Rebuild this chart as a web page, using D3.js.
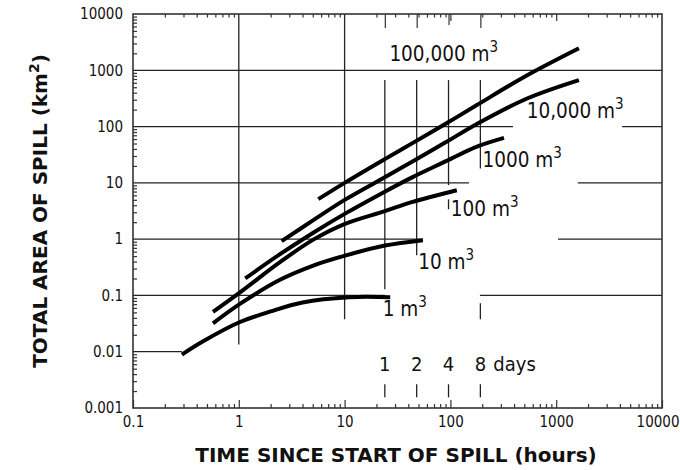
<!DOCTYPE html>
<html>
<head>
<meta charset="utf-8">
<script src="https://cdn.jsdelivr.net/npm/d3@7"></script>
<style>
  body { margin: 0; background: #fff; }
  text { font-family: 'DejaVu Sans Condensed', 'DejaVu Sans', sans-serif; fill: #111; }
  .title { font-family: 'DejaVu Sans', sans-serif; font-weight: bold; font-size: 20px; }
</style>
</head>
<body>
<div id="chart"></div>
<script>
// spill curves: [hours, km2]
const spill1 = [[0.29, 0.0089], [0.46, 0.0153], [1, 0.033], [2, 0.052], [4, 0.075], [11, 0.093], [27, 0.093]];
const spill10 = [[0.57, 0.032], [1.05, 0.073], [2.45, 0.19], [5.06, 0.34], [10.1, 0.51], [24, 0.77], [55, 0.96]];
const spill100 = [[0.57, 0.051], [1.05, 0.117], [2.45, 0.39], [5.06, 0.98], [10.1, 1.87], [24, 3.14], [43, 4.54], [115, 7.4]];
const spill1000 = [[1.15, 0.2], [2.45, 0.54], [5.06, 1.3], [10.1, 2.84], [24, 6.98], [43, 12.4], [91, 24.3], [178, 44], [321, 63]];
const spill10000 = [[2.54, 0.92], [5.06, 2.17], [10.1, 5.03], [24, 12.6], [43, 23.4], [91, 53], [178, 111], [530, 315], [1640, 670]];
const spill100000 = [[5.64, 5.13], [10.1, 10.1], [24, 26.4], [43, 49.8], [91, 113], [178, 241], [507, 774], [1640, 2455]];

const curveLabels = ["1", "10", "100", "1000", "10,000", "100,000"];
// where each label starts: [hours, km2]
const labelAt = [[22.9, 0.043], [49.7, 0.29], [101, 2.58], [201, 19.3], [526, 140], [26.5, 1480]];

const xTicks = [0.1, 1, 10, 100, 1000, 10000];
const yTicks = [0.001, 0.01, 0.1, 1, 10, 100, 1000, 10000];
const dayHours = [24, 48, 96, 192];
const dayLabels = ["1", "2", "4", "8"];

// horizontal grid pieces: [km2, from hours, to hours]
const hGrid = [[1000, 0.1, 10000], [100, 0.1, 390], [100, 4200, 10000], [10, 0.1, 150], [10, 1600, 10000],
               [1, 0.1, 55], [1, 1040, 10000], [0.1, 0.1, 24], [0.1, 190, 10000], [0.01, 0.1, 0.29]];
// vertical grid pieces: [hours, from km2, to km2]
const vGrid = [[1, 0.0135, 10000], [10, 0.0377, 10000], [24, 0.129, 670], [48, 0.52, 670],
               [96, 9.1, 670], [96, 3.4, 5.1], [192, 18, 670], [192, 0.0377, 0.0727],
               [24, 0.00155, 0.00264], [48, 0.00155, 0.00264], [96, 0.00155, 0.00264], [192, 0.00155, 0.00264]];

const width = 680, height = 470;
const margin = {left: 133, right: 18, top: 14, bottom: 62};

const svg = d3.select("#chart").append("svg")
  .attr("width", width)
  .attr("height", height);

const x = d3.scaleLog().domain([0.1, 10000]).range([margin.left, width - margin.right]);
const y = d3.scaleLog().domain([0.001, 10000]).range([height - margin.bottom, margin.top]);

// minor tick values 2..9 per decade
function minors(lo, hi) {
  const out = [];
  for (let d = lo; d < hi; d *= 10) {
    for (let k = 2; k <= 9; k++) out.push(+(d * k).toPrecision(3));
  }
  return out;
}

const fmt = d3.format("~g");
const bottom = height - margin.bottom;

// bottom axis
svg.append("g").attr("transform", `translate(0,${bottom})`)
  .call(d3.axisBottom(x).tickValues(minors(0.1, 10000)).tickSize(-4).tickFormat(""))
  .call(g => g.select(".domain").remove());
svg.append("g").attr("transform", `translate(0,${bottom})`)
  .call(d3.axisBottom(x).tickValues(xTicks).tickSize(-8).tickPadding(8).tickFormat(fmt))
  .call(g => g.select(".domain").remove())
  .call(g => g.selectAll("text").style("font-size", "15px"))
  // last label would spill past the window edge
  .call(g => g.selectAll("text").filter(d => d === 10000).attr("text-anchor", "end").attr("x", 17));

// top axis (ticks only)
svg.append("g").attr("transform", `translate(0,${margin.top})`)
  .call(d3.axisTop(x).tickValues(minors(0.1, 10000)).tickSize(-3.5).tickFormat(""))
  .call(g => g.select(".domain").remove());
svg.append("g").attr("transform", `translate(0,${margin.top})`)
  .call(d3.axisTop(x).tickValues([100, 1000]).tickSize(-7).tickFormat(""))
  .call(g => g.select(".domain").remove());
svg.append("g").attr("transform", `translate(0,${margin.top})`)
  .call(d3.axisTop(x).tickValues([24, 48, 192]).tickSize(-14).tickFormat(""))
  .call(g => g.select(".domain").remove());
svg.append("g").attr("transform", `translate(0,${margin.top})`)
  .call(d3.axisTop(x).tickValues([96]).tickSize(-11).tickFormat(""))
  .call(g => g.select(".domain").remove());

// left axis
svg.append("g").attr("transform", `translate(${margin.left},0)`)
  .call(d3.axisLeft(y).tickValues(minors(0.001, 10000)).tickSize(-4).tickFormat(""))
  .call(g => g.select(".domain").remove());
svg.append("g").attr("transform", `translate(${margin.left},0)`)
  .call(d3.axisLeft(y).tickValues(yTicks).tickSize(0).tickPadding(10).tickFormat(fmt))
  .call(g => g.select(".domain").remove())
  .call(g => g.selectAll("text").style("font-size", "15px"));

svg.selectAll(".tick line").attr("stroke", "#333").attr("stroke-width", 1.2);

// grid
const grid = svg.append("g").attr("stroke", "#222").attr("stroke-width", 1.3);
grid.selectAll(".h").data(hGrid).join("line")
  .attr("x1", d => x(d[1])).attr("x2", d => x(d[2]))
  .attr("y1", d => y(d[0])).attr("y2", d => y(d[0]));
grid.selectAll(".v").data(vGrid).join("line")
  .attr("x1", d => x(d[0])).attr("x2", d => x(d[0]))
  .attr("y1", d => y(d[1])).attr("y2", d => y(d[2]));

// frame
svg.append("rect")
  .attr("x", x(0.1)).attr("y", y(10000))
  .attr("width", x(10000) - x(0.1)).attr("height", y(0.001) - y(10000))
  .attr("fill", "none").attr("stroke", "#333").attr("stroke-width", 1.6);

// curves
const line = d3.line()
  .x(d => x(d[0]))
  .y(d => y(d[1]))
  .curve(d3.curveCatmullRom.alpha(0.5));

svg.append("g").selectAll("path")
  .data([spill1, spill10, spill100, spill1000, spill10000, spill100000])
  .join("path")
  .attr("d", line)
  .attr("fill", "none")
  .attr("stroke", "#000")
  .attr("stroke-width", 4);

// curve labels
const lab = svg.append("g").selectAll("text")
  .data(curveLabels)
  .join("text")
  .attr("x", (d, i) => x(labelAt[i][0]))
  .attr("y", (d, i) => y(labelAt[i][1]))
  .style("font-size", "20.5px");
lab.append("tspan").text(d => d + " m");
lab.append("tspan").attr("dy", -9).style("font-size", "15px").text("3");

// day labels
svg.append("g").selectAll("text")
  .data(dayLabels)
  .join("text")
  .attr("x", (d, i) => x(dayHours[i]))
  .attr("y", y(0.00455))
  .attr("text-anchor", "middle")
  .style("font-size", "20px")
  .text(d => d);
svg.append("text")
  .attr("x", x(192) + 13)
  .attr("y", y(0.00455))
  .style("font-size", "20px")
  .text("days");

// axis titles
svg.append("text")
  .attr("class", "title")
  .attr("x", 396)
  .attr("y", 462)
  .attr("text-anchor", "middle")
  .text("TIME SINCE START OF SPILL (hours)");

const yt = svg.append("text")
  .attr("class", "title")
  .attr("transform", "translate(47,211) rotate(-90)")
  .attr("text-anchor", "middle");
yt.append("tspan").text("TOTAL AREA OF SPILL (km");
yt.append("tspan").attr("dy", -8).style("font-size", "14px").text("2");
yt.append("tspan").attr("dy", 8).text(")");
</script>
</body>
</html>
